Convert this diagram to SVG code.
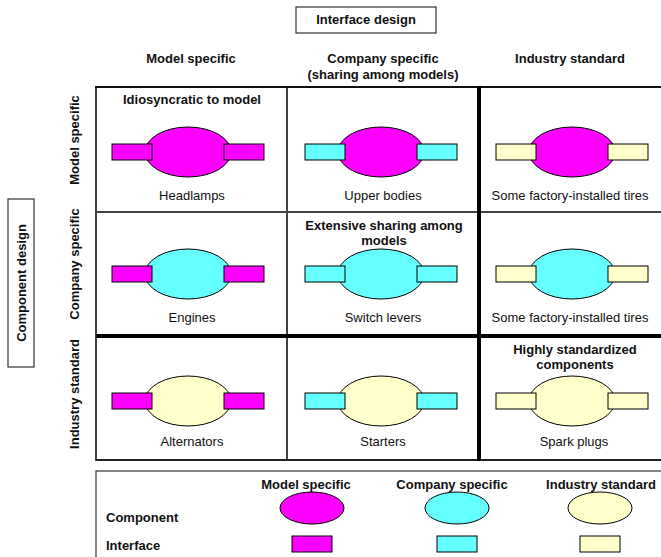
<svg xmlns="http://www.w3.org/2000/svg" width="661" height="557" viewBox="0 0 661 557">
  <style>
    text { font-family: "Liberation Sans", Arial, sans-serif; fill: #111; }
    .b { font-weight: bold; font-size: 13px; }
    .r { font-size: 13px; }
    .mid { text-anchor: middle; }
    .thin { stroke: #444; stroke-width: 2; fill: none; }
    .thick { stroke: #000; stroke-width: 4; fill: none; }
    .frame { fill: #fff; stroke: #333; stroke-width: 1.2; }
    .cm { fill: #ff00ff; stroke: #000; stroke-width: 1; }
    .cc { fill: #66ffff; stroke: #000; stroke-width: 1; }
    .cy { fill: #ffffcc; stroke: #000; stroke-width: 1; }
  </style>
  <defs>
    <!-- component body with two interface tabs, centred on 0,0 -->
    <g id="part-mm"><ellipse class="cm" cx="0" cy="0" rx="43" ry="25"/><rect class="cm" x="-76" y="-8" width="40" height="16"/><rect class="cm" x="36" y="-8" width="40" height="16"/></g>
    <g id="part-cm"><ellipse class="cc" cx="0" cy="0" rx="43" ry="25"/><rect class="cm" x="-76" y="-8" width="40" height="16"/><rect class="cm" x="36" y="-8" width="40" height="16"/></g>
    <g id="part-ym"><ellipse class="cy" cx="0" cy="0" rx="43" ry="25"/><rect class="cm" x="-76" y="-8" width="40" height="16"/><rect class="cm" x="36" y="-8" width="40" height="16"/></g>
    <g id="part-mc"><ellipse class="cm" cx="0" cy="0" rx="43" ry="25"/><rect class="cc" x="-76" y="-8" width="40" height="16"/><rect class="cc" x="36" y="-8" width="40" height="16"/></g>
    <g id="part-cc"><ellipse class="cc" cx="0" cy="0" rx="43" ry="25"/><rect class="cc" x="-76" y="-8" width="40" height="16"/><rect class="cc" x="36" y="-8" width="40" height="16"/></g>
    <g id="part-yc"><ellipse class="cy" cx="0" cy="0" rx="43" ry="25"/><rect class="cc" x="-76" y="-8" width="40" height="16"/><rect class="cc" x="36" y="-8" width="40" height="16"/></g>
    <g id="part-my"><ellipse class="cm" cx="0" cy="0" rx="43" ry="25"/><rect class="cy" x="-76" y="-8" width="40" height="16"/><rect class="cy" x="36" y="-8" width="40" height="16"/></g>
    <g id="part-cy"><ellipse class="cc" cx="0" cy="0" rx="43" ry="25"/><rect class="cy" x="-76" y="-8" width="40" height="16"/><rect class="cy" x="36" y="-8" width="40" height="16"/></g>
    <g id="part-yy"><ellipse class="cy" cx="0" cy="0" rx="43" ry="25"/><rect class="cy" x="-76" y="-8" width="40" height="16"/><rect class="cy" x="36" y="-8" width="40" height="16"/></g>
  </defs>

  <rect width="661" height="557" fill="#fff"/>

  <!-- axis titles -->
  <g id="interface-axis">
    <rect class="frame" x="296" y="7" width="140" height="26"/>
    <text class="b mid" x="366" y="24">Interface design</text>
  </g>
  <g id="component-axis">
    <rect class="frame" x="8" y="199" width="26" height="168"/>
    <text class="b mid" transform="translate(26,283) rotate(-90)">Component design</text>
  </g>

  <!-- column headings -->
  <g id="col-heads">
    <text class="b mid" x="191" y="63">Model specific</text>
    <text class="b mid" x="383" y="63">Company specific</text>
    <text class="b mid" x="383" y="79">(sharing among models)</text>
    <text class="b mid" x="570" y="63">Industry standard</text>
  </g>

  <!-- row headings -->
  <g id="row-heads">
    <text class="b mid" transform="translate(79,140) rotate(-90)">Model specific</text>
    <text class="b mid" transform="translate(79,264) rotate(-90)">Company specific</text>
    <text class="b mid" transform="translate(79,394) rotate(-90)">Industry standard</text>
  </g>

  <!-- grid lines -->
  <g id="grid">
    <line class="thin" x1="96" y1="87" x2="96" y2="461"/>
    <line class="thin" x1="287" y1="87" x2="287" y2="461"/>
    <line class="thin" x1="96" y1="212" x2="661" y2="212"/>
    <line class="thin" x1="96" y1="460" x2="661" y2="460" style="stroke:#222"/>
    <line class="thin" x1="95" y1="87" x2="661" y2="87" style="stroke:#111"/>
    <line class="thick" x1="96" y1="336" x2="661" y2="336"/>
    <line class="thick" x1="479" y1="86" x2="479" y2="461"/>
  </g>

  <!-- row 1: model-specific components -->
  <g id="cell-headlamps">
    <text class="b mid" x="192" y="104">Idiosyncratic to model</text>
    <use href="#part-mm" x="188" y="152"/>
    <text class="r mid" x="192" y="200">Headlamps</text>
  </g>
  <g id="cell-upper-bodies">
    <use href="#part-mc" x="381" y="152"/>
    <text class="r mid" x="383" y="200">Upper bodies</text>
  </g>
  <g id="cell-tires-1">
    <use href="#part-my" x="572" y="152"/>
    <text class="r mid" x="570" y="200">Some factory-installed tires</text>
  </g>

  <!-- row 2: company-specific components -->
  <g id="cell-engines">
    <use href="#part-cm" x="188" y="274"/>
    <text class="r mid" x="192" y="322">Engines</text>
  </g>
  <g id="cell-switch-levers">
    <text class="b mid" x="384" y="230">Extensive sharing among</text>
    <text class="b mid" x="384" y="245">models</text>
    <use href="#part-cc" x="381" y="274"/>
    <text class="r mid" x="383" y="322">Switch levers</text>
  </g>
  <g id="cell-tires-2">
    <use href="#part-cy" x="572" y="274"/>
    <text class="r mid" x="570" y="322">Some factory-installed tires</text>
  </g>

  <!-- row 3: industry-standard components -->
  <g id="cell-alternators">
    <use href="#part-ym" x="188" y="401"/>
    <text class="r mid" x="192" y="446">Alternators</text>
  </g>
  <g id="cell-starters">
    <use href="#part-yc" x="381" y="401"/>
    <text class="r mid" x="383" y="446">Starters</text>
  </g>
  <g id="cell-spark-plugs">
    <text class="b mid" x="575" y="354">Highly standardized</text>
    <text class="b mid" x="575" y="369">components</text>
    <use href="#part-yy" x="572" y="401"/>
    <text class="r mid" x="574" y="446">Spark plugs</text>
  </g>

  <!-- key -->
  <g id="legend">
    <rect class="frame" x="96" y="471" width="580" height="100"/>
    <text class="b mid" x="306" y="489">Model specific</text>
    <text class="b mid" x="452" y="489">Company specific</text>
    <text class="b mid" x="601" y="489">Industry standard</text>
    <text class="b" x="106" y="522">Component</text>
    <text class="b" x="106" y="550">Interface</text>
    <ellipse class="cm" cx="312" cy="508" rx="32" ry="16"/>
    <ellipse class="cc" cx="457" cy="508" rx="32" ry="16"/>
    <ellipse class="cy" cx="600" cy="508" rx="32" ry="16"/>
    <rect class="cm" x="292" y="536" width="40" height="16"/>
    <rect class="cc" x="437" y="536" width="40" height="16"/>
    <rect class="cy" x="580" y="536" width="40" height="16"/>
  </g>
</svg>
